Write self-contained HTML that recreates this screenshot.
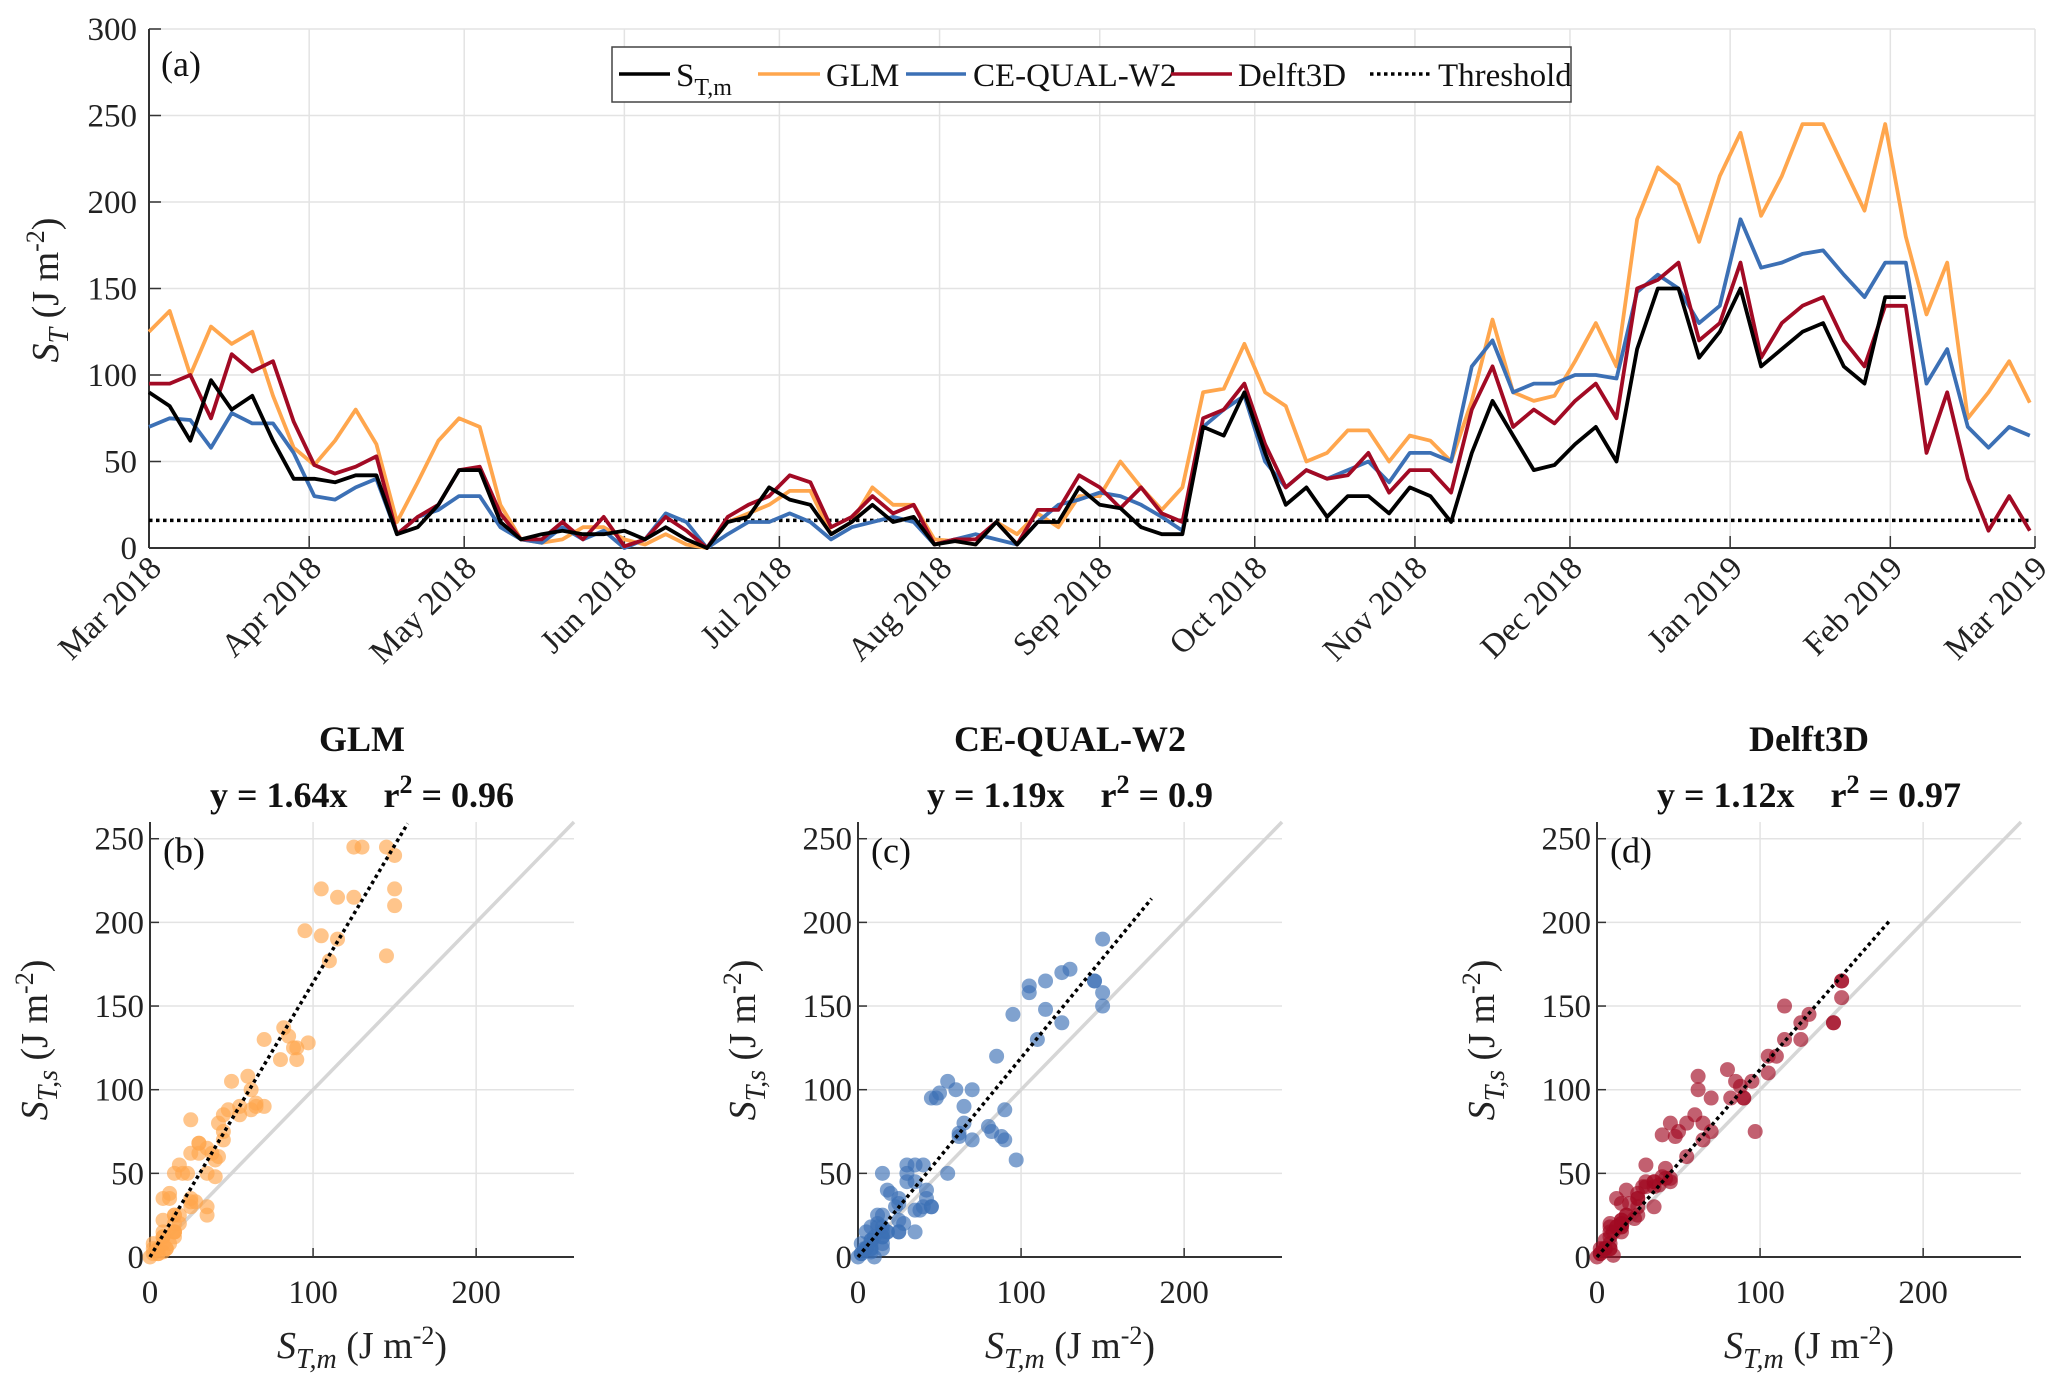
<!DOCTYPE html>
<html><head><meta charset="utf-8"><style>
html,body{margin:0;padding:0;background:#fff;}
svg, svg text, svg tspan{font-family:"Liberation Serif","DejaVu Serif",serif;}
</style></head><body>
<svg id="fig" width="2067" height="1383" viewBox="0 0 2067 1383" font-family="Liberation Serif, DejaVu Serif, serif" xmlns="http://www.w3.org/2000/svg"></svg>
<script>
// ---- data (4-day grid) ----
const days = [];
for (let i = 0; i < 92; i++) days.push(i * 4);
const stm = [90,82,62,97,80,88,62,40,40,38, 42,42,8,12,25,45,45,15,5,8, 10,8,8,10,5,12,5,0,15,18, 35,28,25,8,15,25,15,18,2,4, 2,15,2,15,15,35,25,23,12,8, 8,70,65,90,55,25,35,18,30,30, 20,35,30,15,55,85,65,45,48,60, 70,50,115,150,150,110,125,150,105,115, 125,130,105,95,145,145,null,null,null,null, null,null];
const glm = [125,137,100,128,118,125,88,58,48,62, 80,60,15,38,62,75,70,25,5,3, 5,12,12,5,2,8,2,0,15,20, 25,33,33,8,15,35,25,25,5,4, 2,15,8,20,12,30,30,50,35,22, 35,90,92,118,90,82,50,55,68,68, 50,65,62,50,85,132,90,85,88,108, 130,105,190,220,210,177,215,240,192,215, 245,245,220,195,245,180,135,165,75,90, 108,84];
const cqw = [70,75,74,58,78,72,72,55,30,28, 35,40,8,18,22,30,30,12,5,3, 12,5,10,0,5,20,15,0,8,15, 15,20,15,5,12,15,18,15,2,5, 8,5,2,15,25,28,32,30,25,18, 10,70,80,88,50,35,45,40,45,50, 38,55,55,50,105,120,90,95,95,100, 100,98,148,158,150,130,140,190,162,165, 170,172,158,145,165,165,95,115,70,58, 70,65];
const d3d = [95,95,100,75,112,102,108,73,48,43, 47,53,8,18,25,45,47,20,5,5, 15,5,18,1,5,18,10,0,18,25, 30,42,38,12,18,30,20,25,2,5, 5,15,2,22,22,42,35,23,35,20, 15,75,80,95,60,35,45,40,42,55, 32,45,45,32,80,105,70,80,72,85, 95,75,150,155,165,120,130,165,110,130, 140,145,120,105,140,140,55,90,40,10, 30,10];
const threshold = 16;
const monthLabels = ["Mar 2018","Apr 2018","May 2018","Jun 2018","Jul 2018","Aug 2018","Sep 2018","Oct 2018","Nov 2018","Dec 2018","Jan 2019","Feb 2019","Mar 2019"];
const monthDays = [0,31,61,92,122,153,184,214,245,275,306,337,365];
const yTicksTop = [0,50,100,150,200,250,300];
const scatTicksX = [0,100,200];
const scatTicksY = [0,50,100,150,200,250];
const slopes = [1.64,1.19,1.12];
const fitEnds = [158,180,180];
const r2 = ["0.96","0.9","0.97"];
const modelNames = ["GLM","CE-QUAL-W2","Delft3D"];

const NS = "http://www.w3.org/2000/svg";
const FF = '"Liberation Serif","DejaVu Serif",serif';
const svg = document.getElementById('fig');
function mk(tag, attrs, parent) {
  const e = document.createElementNS(NS, tag);
  for (const k in attrs) e.setAttribute(k, attrs[k]);
  if (tag === 'text') e.style.fontFamily = FF;
  (parent || svg).appendChild(e);
  return e;
}
const COL = {stm:"#000000", glm:"#FFA64D", cqw:"#3C70B5", d3d:"#A20A24"};

// ---- top panel ----
const L = 149, R = 2035, T = 29, B = 548;
const xT = d => L + d * (R - L) / 365;
const yT = v => B - v * (B - T) / 300;
const gTop = mk('g', {});


yTicksTop.forEach(v => {
  const ln = mk('line', {x1:L, x2:R, y1:yT(v), y2:yT(v), stroke:"#e3e3e3", "stroke-width":1.5}, gTop);
  
  
  const t = mk('text', {x:L - 12, y:yT(v) + 11, "text-anchor":"end", "font-size":33, fill:"#222"}, gTop);
  
  
  t.textContent = v;
  mk('line', {x1:L, x2:L + 12, y1:yT(v), y2:yT(v), stroke:"#333", "stroke-width":1.5}, gTop);
});
monthDays.forEach((d, i) => {
  const ln = mk('line', {x1:xT(d), x2:xT(d), y1:T, y2:B, stroke:"#e3e3e3", "stroke-width":1.5}, gTop);
  
  
  mk('line', {x1:xT(d), x2:xT(d), y1:B, y2:B - 12, stroke:"#333", "stroke-width":1.5}, gTop);
  const t = mk('text', {x:0, y:0, "text-anchor":"end", "font-size":33, fill:"#222", transform:`translate(${xT(d) + 14},${B + 22}) rotate(-45)`}, gTop);
  
  
  t.textContent = monthLabels[i];
});
mk('line', {x1:L, x2:L, y1:T, y2:B, stroke:"#333", "stroke-width":2}, gTop);
mk('line', {x1:L, x2:R, y1:B, y2:B, stroke:"#333", "stroke-width":2}, gTop);

const thr = mk('line', {x1:L, x2:R - 5, y1:yT(threshold), y2:yT(threshold), stroke:"#000", "stroke-width":3.5, "stroke-dasharray":"3.5 3.5"}, gTop);



function series(arr, col, name) {
  let d = "", pen = false;
  arr.forEach((v, i) => {
    if (v === null) { pen = false; return; }
    d += (pen ? "L" : "M") + xT(days[i]).toFixed(1) + "," + yT(v).toFixed(1);
    pen = true;
  });
  const p = mk('path', {d:d, fill:"none", stroke:col, "stroke-width":3.8, "stroke-linejoin":"round"}, gTop);
  
  
}
series(glm, COL.glm, 'glm-line');
series(cqw, COL.cqw, 'ce-qual-w2-line');
series(d3d, COL.d3d, 'delft3d-line');
series(stm, COL.stm, 'measured-line');

const pa = mk('text', {x:161, y:76, "font-size":36, fill:"#111"}, gTop);


pa.textContent = "(a)";

const ylab = mk('text', {x:0, y:0, "text-anchor":"middle", "font-size":38, fill:"#222", transform:"translate(58,290) rotate(-90)"}, gTop);


ylab.innerHTML = '<tspan font-style="italic">S</tspan><tspan font-style="italic" font-size="28" dy="10">T</tspan><tspan dy="-10"> (J m</tspan><tspan font-size="26" dy="-14">-2</tspan><tspan dy="14">)</tspan>';

// legend
const leg = mk('g', {});


mk('rect', {x:612, y:47, width:959, height:55, fill:"#fff", stroke:"#444", "stroke-width":1.5}, leg);
const legItems = [
  {x1:619, x2:670, col:"#000", tx:676, label:'S<tspan font-size="24" dy="9">T,m</tspan>', name:'legend-entry-measured'},
  {x1:758, x2:820, col:COL.glm, tx:826, label:'GLM', name:'legend-entry-glm'},
  {x1:906, x2:966, col:COL.cqw, tx:973, label:'CE-QUAL-W2', name:'legend-entry-ce-qual-w2'},
  {x1:1171, x2:1232, col:COL.d3d, tx:1238, label:'Delft3D', name:'legend-entry-delft3d'},
  {x1:1370, x2:1430, col:"#000", tx:1438, label:'Threshold', name:'legend-entry-threshold', dash:true}
];
legItems.forEach(it => {
  const g = mk('g', {}, leg);
  
  
  const a = {x1:it.x1, x2:it.x2, y1:74, y2:74, stroke:it.col, "stroke-width":3.5};
  if (it.dash) a["stroke-dasharray"] = "3.5 3.5";
  mk('line', a, g);
  const t = mk('text', {x:it.tx, y:86, "font-size":33, fill:"#111"}, g);
  t.innerHTML = it.label;
});

// ---- scatter panels ----
const panels = [
  {l:150, name:'glm', arr:glm, col:COL.glm, lab:'(b)'},
  {l:858, name:'ce-qual-w2', arr:cqw, col:COL.cqw, lab:'(c)'},
  {l:1597, name:'delft3d', arr:d3d, col:COL.d3d, lab:'(d)'}
];
const PW = 424, sB = 1257, sT = 822;
panels.forEach((p, pi) => {
  const g = mk('g', {});
  
  
  const xs = v => p.l + v * PW / 260;
  const ys = v => sB - v * (sB - sT) / 260;
  scatTicksY.forEach(v => {
    const ln = mk('line', {x1:p.l, x2:p.l + PW, y1:ys(v), y2:ys(v), stroke:"#e3e3e3", "stroke-width":1.5}, g);
    
    
    mk('line', {x1:p.l, x2:p.l + 9, y1:ys(v), y2:ys(v), stroke:"#333", "stroke-width":1.5}, g);
    const t = mk('text', {x:p.l - 6, y:ys(v) + 11, "text-anchor":"end", "font-size":33, fill:"#222"}, g);
    
    
    t.textContent = v;
  });
  scatTicksX.forEach(v => {
    const ln = mk('line', {x1:xs(v), x2:xs(v), y1:sT, y2:sB, stroke:"#e3e3e3", "stroke-width":1.5}, g);
    
    
    mk('line', {x1:xs(v), x2:xs(v), y1:sB, y2:sB - 9, stroke:"#333", "stroke-width":1.5}, g);
    const t = mk('text', {x:xs(v), y:sB + 46, "text-anchor":"middle", "font-size":33, fill:"#222"}, g);
    
    
    t.textContent = v;
  });
  mk('line', {x1:p.l, x2:p.l, y1:sT, y2:sB, stroke:"#333", "stroke-width":2}, g);
  mk('line', {x1:p.l, x2:p.l + PW, y1:sB, y2:sB, stroke:"#333", "stroke-width":2}, g);
  const one = mk('line', {x1:xs(0), y1:ys(0), x2:xs(260), y2:ys(260), stroke:"#d6d6d6", "stroke-width":3.5}, g);
  
  
  p.arr.forEach((v, i) => {
    const m = stm[i];
    if (v === null || m === null) return;
    const c = mk('circle', {cx:xs(m), cy:ys(v), r:7.5, fill:p.col, "fill-opacity":0.65}, g);
    
    
  });
  const fit = mk('line', {x1:xs(0), y1:ys(0), x2:xs(fitEnds[pi]), y2:ys(fitEnds[pi] * slopes[pi]), stroke:"#000", "stroke-width":3.5, "stroke-dasharray":"3.5 3.5"}, g);
  
  
  const lb = mk('text', {x:p.l + 13, y:ys(250) + 24, "font-size":36, fill:"#111"}, g);
  
  
  lb.textContent = p.lab;
  const cx = p.l + PW / 2;
  const t1 = mk('text', {x:cx, y:751, "text-anchor":"middle", "font-size":36, "font-weight":"bold", fill:"#111"}, g);
  
  
  t1.textContent = modelNames[pi];
  const t2 = mk('text', {x:cx, y:807, "text-anchor":"middle", "font-size":36, "font-weight":"bold", fill:"#111"}, g);
  
  
  t2.innerHTML = 'y = ' + slopes[pi].toFixed(2) + 'x\u00A0\u00A0\u00A0\u00A0r<tspan font-size="26" dy="-14">2</tspan><tspan dy="14"> = ' + r2[pi] + '</tspan>';
  const yl = mk('text', {x:0, y:0, "text-anchor":"middle", "font-size":38, fill:"#222", transform:`translate(${p.l - 103},${1040}) rotate(-90)`}, g);
  
  
  yl.innerHTML = '<tspan font-style="italic">S</tspan><tspan font-style="italic" font-size="28" dy="10">T,s</tspan><tspan dy="-10"> (J m</tspan><tspan font-size="26" dy="-14">-2</tspan><tspan dy="14">)</tspan>';
  const xl = mk('text', {x:cx, y:1358, "text-anchor":"middle", "font-size":38, fill:"#222"}, g);
  
  
  xl.innerHTML = '<tspan font-style="italic">S</tspan><tspan font-style="italic" font-size="28" dy="10">T,m</tspan><tspan dy="-10"> (J m</tspan><tspan font-size="26" dy="-14">-2</tspan><tspan dy="14">)</tspan>';
});
</script>
</body></html>
